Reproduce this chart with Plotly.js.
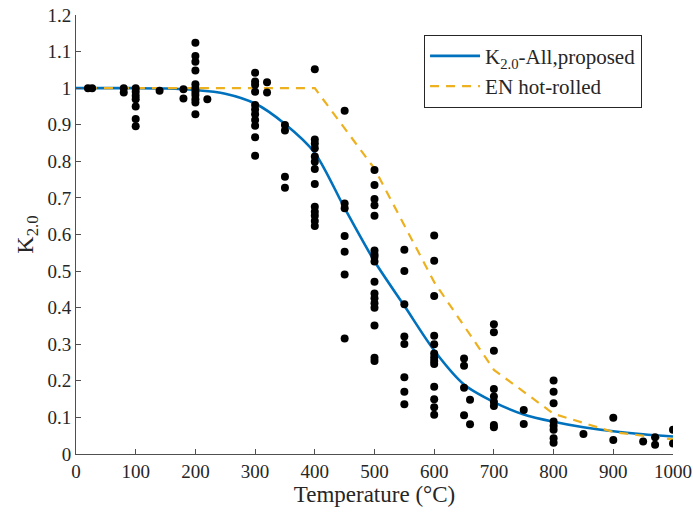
<!DOCTYPE html>
<html>
<head>
<meta charset="utf-8">
<script src="https://cdn.plot.ly/plotly-3.0.1.min.js"></script>
<style>html,body{margin:0;padding:0;background:#fff;}#chart{width:693px;height:514px;}</style>
</head>
<body>
<div id="chart"></div>
<script>
// Test data points (temperature, K2.0)
const testTemp = [
  20, 27,
  80, 80,
  100, 100, 100, 100, 100, 100, 100,
  140,
  180, 180,
  200, 200, 200, 200, 200, 200, 200, 200, 200, 200, 200,
  220,
  300, 300, 300, 300, 300, 300, 300, 300, 300, 300, 300,
  320, 320,
  350, 350, 350, 350,
  400, 400, 400, 400, 400, 400, 400, 400, 400, 400, 400, 400, 400,
  450, 450, 450, 450, 450, 450, 450,
  500, 500, 500, 500, 500, 500, 500, 500, 500, 500, 500, 500, 500, 500, 500, 500, 500,
  550, 550, 550, 550, 550, 550, 550, 550,
  600, 600, 600, 600, 600, 600, 600, 600, 600, 600, 600, 600, 600,
  650, 650, 650, 650,
  660, 660,
  700, 700, 700, 700, 700, 700, 700, 700, 700,
  750, 750,
  800, 800, 800, 800, 800, 800, 800, 800,
  850,
  900, 900,
  950,
  970, 970,
  1000, 1000
];
const testK = [
  1.0, 1.0,
  1.0, 0.988,
  1.0, 0.99, 0.979, 0.970, 0.950, 0.916, 0.896,
  0.993,
  0.997, 0.972,
  1.124, 1.088, 1.072, 1.048, 1.011, 1.0, 0.990, 0.981, 0.970, 0.961, 0.929,
  0.970,
  1.042, 1.018, 1.009, 0.990, 0.954, 0.942, 0.929, 0.913, 0.897, 0.866, 0.815,
  1.016, 0.988,
  0.899, 0.884, 0.758, 0.728,
  1.052, 0.860, 0.849, 0.836, 0.813, 0.799, 0.779, 0.738, 0.676, 0.662, 0.651, 0.637, 0.623,
  0.938, 0.685, 0.672, 0.596, 0.553, 0.491, 0.316,
  0.776, 0.735, 0.697, 0.680, 0.651, 0.556, 0.539, 0.526, 0.471, 0.439, 0.426, 0.412, 0.400, 0.351, 0.263, 0.254, 0.545,
  0.558, 0.500, 0.409, 0.321, 0.301, 0.210, 0.170, 0.136,
  0.597, 0.528, 0.432, 0.323, 0.300, 0.275, 0.264, 0.254, 0.246, 0.184, 0.150, 0.128, 0.107,
  0.261, 0.241, 0.181, 0.106,
  0.148, 0.081,
  0.355, 0.333, 0.282, 0.178, 0.157, 0.143, 0.131, 0.079, 0.073,
  0.120, 0.082,
  0.201, 0.170, 0.139, 0.089, 0.077, 0.066, 0.043, 0.031,
  0.055,
  0.099, 0.038,
  0.034,
  0.046, 0.025,
  0.066, 0.029
];

// Proposed curve
const propTemp = [0, 50, 100, 150, 200, 250, 300, 350, 400, 450, 500, 550, 600, 650, 700, 750, 800, 850, 900, 950, 1000];
const propK    = [1.0, 1.0, 1.0, 0.999, 0.995, 0.985, 0.958, 0.902, 0.823, 0.672, 0.527, 0.405, 0.283, 0.190, 0.142, 0.108, 0.088, 0.073, 0.062, 0.054, 0.048];

// EN hot-rolled
const enTemp = [20, 100, 200, 300, 400, 500, 600, 700, 800, 900, 1000];
const enK    = [1.0, 1.0, 1.0, 1.0, 1.0, 0.78, 0.47, 0.23, 0.11, 0.06, 0.04];

const xTicks = [0, 100, 200, 300, 400, 500, 600, 700, 800, 900, 1000];
const yTicks = [0, 0.1, 0.2, 0.3, 0.4, 0.5, 0.6, 0.7, 0.8, 0.9, 1, 1.1, 1.2];

const FONT = "'Liberation Serif', 'Times New Roman', serif";
const AXC = '#505050';
const TXT = '#262626';

const traces = [
  {x: propTemp, y: propK, mode: 'lines', name: 'K<sub>2.0</sub>-All,proposed',
   line: {color: '#0072BD', width: 2.6, shape: 'spline', smoothing: 0.8}},
  {x: enTemp, y: enK, mode: 'lines', name: 'EN hot-rolled',
   line: {color: '#EDB120', width: 2.2, dash: '9px,7px'}},
  {x: testTemp, y: testK, mode: 'markers', showlegend: false,
   marker: {color: '#000', size: 8}}
];

const layout = {
  width: 693, height: 514,
  margin: {l: 76, r: 20, t: 15, b: 60},
  paper_bgcolor: '#fff', plot_bgcolor: '#fff',
  font: {family: FONT, size: 19, color: TXT},
  showlegend: true,
  legend: {x: 0.583, y: 0.955, xanchor: 'left', yanchor: 'top',
           bgcolor: '#fff', bordercolor: '#262626', borderwidth: 1,
           font: {family: FONT, size: 21, color: TXT}, itemwidth: 50},
  xaxis: {range: [0, 1000], tickvals: xTicks, ticks: 'inside', ticklen: 5, tickcolor: AXC,
          showline: true, linecolor: AXC, linewidth: 1, showgrid: false, zeroline: false,
          tickfont: {family: FONT, size: 19, color: TXT},
          title: {text: 'Temperature (°C)', font: {family: FONT, size: 23, color: TXT}, standoff: 2}},
  yaxis: {range: [0, 1.2], tickvals: yTicks, ticks: 'inside', ticklen: 5, tickcolor: AXC,
          showline: true, linecolor: AXC, linewidth: 1, showgrid: false, zeroline: false,
          tickfont: {family: FONT, size: 19, color: TXT},
          title: {text: 'K<sub>2.0</sub>', font: {family: FONT, size: 24, color: TXT}, standoff: 7}}
};

Plotly.newPlot('chart', traces, layout, {staticPlot: true, displayModeBar: false});
</script>
</body>
</html>
